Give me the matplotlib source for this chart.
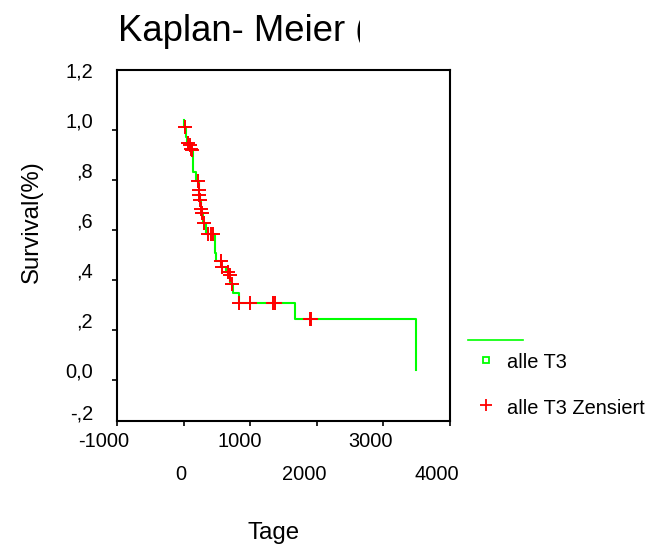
import matplotlib
matplotlib.use("Agg")
import matplotlib.pyplot as plt
from matplotlib.transforms import ScaledTranslation
from matplotlib.patches import Rectangle
from matplotlib.lines import Line2D

plt.rcParams['font.family'] = ['Liberation Sans', 'DejaVu Sans']

# ---- data ----
km_time = [0, 2, 36, 60, 85, 105, 115, 146, 186, 228, 236, 242, 260, 276, 300,
           340, 470, 490, 570, 640, 680, 700, 746, 830, 1673, 3500]
km_surv = [1.0, 0.972, 0.931, 0.907, 0.898, 0.884, 0.879, 0.790, 0.755, 0.718,
           0.700, 0.680, 0.644, 0.628, 0.586, 0.544, 0.469, 0.435, 0.412, 0.392,
           0.382, 0.345, 0.308, 0.267, 0.205, 0.0]

cens_time = [25, 70, 96, 111, 121, 221, 232, 238, 246, 270, 281, 306, 371, 410,
             450, 560, 575, 667, 692, 727, 835, 997, 1347, 1372, 1898, 1923]
cens_surv = [0.972, 0.907, 0.898, 0.884, 0.879, 0.755, 0.718, 0.700, 0.680,
             0.644, 0.628, 0.586, 0.544, 0.544, 0.544, 0.435, 0.412, 0.392,
             0.382, 0.345, 0.267, 0.267, 0.267, 0.267, 0.205, 0.205]

x_ticks = [-1000, 0, 1000, 2000, 3000, 4000]
x_labels = ['-1000', '0', '1000', '2000', '3000', '4000']
y_ticks = [1.2, 1.0, 0.8, 0.6, 0.4, 0.2, 0.0, -0.2]
y_labels = ['1,2', '1,0', ',8', ',6', ',4', ',2', '0,0', '-,2']

title_text = 'Kaplan- Meier ('
x_title = 'Tage'
y_title = 'Survival(%)'
legend_labels = ['alle T3', 'alle T3 Zensiert']

GREEN = '#00ff00'
RED = '#ff0000'

W, H = 651, 546
fig = plt.figure(figsize=(W / 100, H / 100), dpi=100)

def fx(px):
    return px / W

def fy(py):
    return 1 - py / H

ax = fig.add_axes([fx(117), fy(420.5), 332.5 / W, 351 / H])
ax.set_xlim(-1000, 4000)
ax.set_ylim(-0.2, 1.2)

ax.step(km_time, km_surv, where='post', color=GREEN, lw=1.5, zorder=2)
ax.plot(cens_time, cens_surv, ls='none', marker='+', color=RED,
        markersize=9.5, markeredgewidth=1.4, zorder=3)

for s in ax.spines.values():
    s.set_linewidth(1.5)

# x axis
ax.set_xticks(x_ticks)
ax.set_xticklabels(x_labels, fontsize=14.4)
ax.tick_params(axis='x', direction='out', length=3.6, width=1.2, pad=4.8)
dxs = [-13, -3, -10, -12, -12, -13]
for i, lab in enumerate(ax.get_xticklabels()):
    dy = -33.3 if i % 2 == 1 else 0
    lab.set_transform(lab.get_transform() +
                      ScaledTranslation(dxs[i] / 100, dy / 100, fig.dpi_scale_trans))

# y axis: labels at values, tick marks slightly below (as in reference)
ax.set_yticks(y_ticks)
ax.set_yticklabels(y_labels, fontsize=14.4)
ax.tick_params(axis='y', which='major', length=0, pad=17.3)
ax.set_yticks([v - 0.04 for v in y_ticks[1:-1]], minor=True)
ax.tick_params(axis='y', which='minor', direction='out', length=3.6, width=1.2)
ylabs = ax.get_yticklabels()
ylabs[-1].set_transform(ylabs[-1].get_transform() +
                        ScaledTranslation(0, 8 / 100, fig.dpi_scale_trans))

# titles
t = fig.text(fx(118), fy(41), title_text, fontsize=26.3, ha='left', va='baseline')
t.set_clip_path(Rectangle((0, 0), fx(360), 1, transform=fig.transFigure))
fig.text(fx(274), fy(539), x_title, fontsize=17.3, ha='center', va='baseline')
fig.text(fx(32), fy(222), y_title, fontsize=17.3, ha='center', va='center',
         rotation=90)

# legend (drawn outside the axes, as in the reference)
fig.add_artist(Line2D([fx(468), fx(523)], [fy(339.5), fy(339.5)],
                      transform=fig.transFigure, color=GREEN, lw=1.2))
fig.add_artist(Line2D([fx(485.7)], [fy(359.5)], transform=fig.transFigure,
                      ls='none', marker='s', markersize=5, markerfacecolor='none',
                      markeredgecolor=GREEN, markeredgewidth=1.3))
fig.add_artist(Line2D([fx(485.7)], [fy(405)], transform=fig.transFigure,
                      ls='none', marker='+', markersize=9, color=RED,
                      markeredgewidth=1.3))
fig.text(fx(506.7), fy(362.5), legend_labels[0], fontsize=14.4, ha='left', va='center')
fig.text(fx(506.7), fy(408), legend_labels[1], fontsize=14.4, ha='left', va='center')

fig.savefig('out.png', dpi=100)
